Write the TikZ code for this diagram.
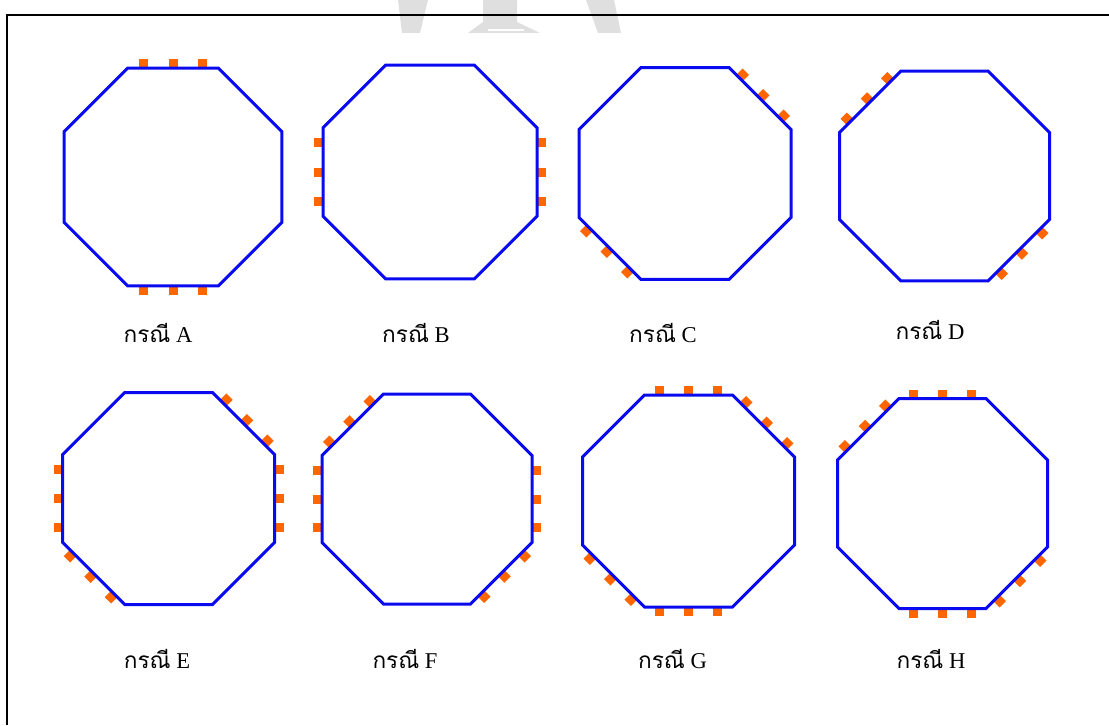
\documentclass[tikz,border=0pt]{standalone}
\usepackage{fontspec}
\setmainfont{Liberation Serif}
\newfontfamily\thaifont[Script=Thai]{Loma}
\usetikzlibrary{calc}
\definecolor{pinorange}{RGB}{255,102,0}
\definecolor{wallblue}{RGB}{10,10,240}

\begin{document}
\begin{tikzpicture}[x=0.5pt,y=0.5pt,
  wall/.style={wallblue,line width=1.5pt,line join=miter},
  pin/.style={fill=pinorange,inner sep=0pt,minimum size=4.5pt},
  caption/.style={font=\fontsize{11.3}{13}\selectfont}]
  \useasboundingbox (0,0) rectangle (1109,725);
  \fill[gray!25] (398,725) -- (428,725) -- (420,692) -- (402,692) -- cycle;
  \fill[gray!25] (586,725) -- (614,725) -- (621,692) -- (598,692) -- cycle;
  \fill[gray!25] (483,725) -- (517,725) -- (517,703) -- (540,692) -- (468,692) -- (483,703) -- cycle;
  \draw[white,line width=1pt] (488,695) -- (524,695);
  \draw[line width=1pt] (7,0) -- (7,710) -- (1109,710);
  \foreach \cx/\cy/\a/\sides in {173/548/109/{0,4},430/553/107/{2,6},685/551.5/106/{1,5},944.5/549/105/{7,3},
      168.7/226.5/106/{1,2,6,5},427/226/105/{7,6,2,3},688.5/224/106/{0,1,5,4},942.5/221.5/105/{0,7,3,4}} {
    \foreach \k in \sides {
      \foreach \u in {-0.66,0,0.66}
        \node[pin,rotate=90-45*\k] at ($(\cx,\cy)+(90-45*\k:\a+4.5)+(-45*\k:0.4142*\a*\u)$) {};
    }
    \draw[wall,shift={(\cx,\cy)}] (22.5:1.0824*\a) \foreach \j in {1,...,7} { -- (22.5+45*\j:1.0824*\a) } -- cycle;
  }
  \node[caption] (caseA) at (158,392) {{\thaifont กรณี} A};
  \node[caption] (caseB) at (416,392) {{\thaifont กรณี} B};
  \node[caption] (caseC) at (663,392) {{\thaifont กรณี} C};
  \node[caption] (caseD) at (930,395) {{\thaifont กรณี} D};
  \node[caption] (caseE) at (157,66) {{\thaifont กรณี} E};
  \node[caption] (caseF) at (405,66) {{\thaifont กรณี} F};
  \node[caption] (caseG) at (672.5,66) {{\thaifont กรณี} G};
  \node[caption] (caseH) at (931,66) {{\thaifont กรณี} H};
\end{tikzpicture}
\end{document}
